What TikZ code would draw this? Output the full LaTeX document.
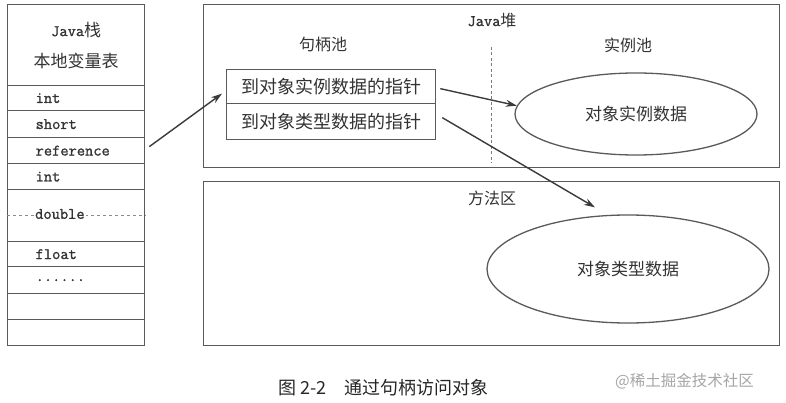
\documentclass[tikz,border=0pt]{standalone}
\usepackage{fontspec}
\setmainfont{Noto Sans CJK SC}
\newfontfamily\stackmono[FakeBold=1.2]{Latin Modern Mono}
\usetikzlibrary{shapes.geometric,arrows.meta}
\definecolor{linec}{HTML}{5A5A5A}
\definecolor{textc}{HTML}{333333}
\definecolor{arrc}{HTML}{3A3A3A}
\tikzset{
  rowbox/.style={draw=linec, line width=1.3pt, anchor=north west, minimum width=137pt,
    text width=81pt, inner xsep=28pt, inner ysep=0pt, align=left, text=textc,
    font=\stackmono\fontsize{16}{16}\selectfont},
  areabox/.style={draw=linec, line width=1.3pt, anchor=north west, inner sep=0pt, minimum width=576pt},
  handlebox/.style={draw=linec, line width=1.3pt, anchor=north west, minimum width=209pt,
    inner sep=0pt, text=textc, font=\fontsize{18}{18}\selectfont},
  pool/.style={draw=linec, line width=1.3pt, ellipse, inner sep=0pt, text=textc,
    font=\fontsize{17}{17}\selectfont},
  lbl/.style={text=textc, font=\fontsize{16}{16}\selectfont, inner sep=0pt},
  ptr/.style={draw=arrc, line width=1.4pt, -{Stealth[length=11pt,width=7pt]}},
}
\begin{document}
\begin{tikzpicture}[x=1pt,y=-1pt]
\useasboundingbox (0,0) rectangle (786,403);
\fill[white] (0,0) rectangle (786,403);
% stack
\node[rowbox, minimum height=81pt, align=center, inner xsep=0pt, text width=137pt,
  font=\fontsize{17}{31}\selectfont] (hdr) at (7,4)
  {{\stackmono\fontsize{16}{16}\selectfont Java}栈\\本地变量表};
\node[rowbox, minimum height=25pt] (r1) at (7,85) {int};
\node[rowbox, minimum height=27pt] (r2) at (7,110) {short};
\node[rowbox, minimum height=26pt] (r3) at (7,137) {reference};
\node[rowbox, minimum height=26pt] (r4) at (7,163) {int};
\node[rowbox, minimum height=52pt] (r5) at (7,189) {};
\node[rowbox, minimum height=25pt] (r6) at (7,241) {float};
\node[rowbox, minimum height=27pt] (r7) at (7,266) {......};
\node[rowbox, minimum height=26pt] (r8) at (7,293) {};
\node[rowbox, minimum height=26pt] (r9) at (7,319) {};
\draw[linec!70, line width=0.9pt, dash pattern=on 3pt off 3pt] (r5.west) -- (r5.east);
\node[fill=white, inner xsep=1pt, inner ysep=2pt, text=textc, anchor=west,
  font=\stackmono\fontsize{16}{16}\selectfont] (dbl) at (34,214) {double};
% heap
\node[areabox, minimum height=163pt] (heap) at (203,4) {};
\node[lbl] (heaplbl) at (492,20) {{\stackmono\fontsize{16}{16}\selectfont Java}堆};
\coordinate (dtop) at (491,47);
\coordinate (dbot) at (491,163);
\draw[linec!80, line width=1pt, dash pattern=on 3pt off 2.5pt] (dtop) -- (dbot);
\node[lbl] (hplbl) at (323,44) {句柄池};
\node[lbl] (iplbl) at (628,45) {实例池};
\node[handlebox, minimum height=34pt] (h1) at (226,69) {到对象实例数据的指针};
\node[handlebox, minimum height=36pt] (h2) at (226,103) {到对象类型数据的指针};
\node[pool, minimum width=242pt, minimum height=82pt] (e1) at (636,114) {对象实例数据};
% method area
\node[areabox, minimum height=164pt] (meth) at (203,181) {};
\node[lbl] (mlbl) at (492,198) {方法区};
\node[pool, minimum width=282pt, minimum height=108pt] (e2) at (628,269) {对象类型数据};
% pointers
\draw[ptr] ([xshift=4pt,yshift=4pt]r3.east) -- ([xshift=-4pt,yshift=-7pt]h1.west);
\draw[ptr] ([xshift=4pt,yshift=-2pt]h1.east) -- (e1.176);
\draw[ptr] ([xshift=6pt,yshift=4pt]h2.east) -- ([xshift=-33pt,yshift=7pt]e2.north);
% caption
\node[text=black!85, font=\fontsize{18}{18}\selectfont, anchor=west, inner sep=0pt] (cap) at (278,388)
  {图 2-2\hspace{1em}通过句柄访问对象};
\node[text=black!35, font=\fontsize{15.5}{16}\selectfont, anchor=west, inner sep=0pt] (wm) at (615,381)
  {@稀土掘金技术社区};
\end{tikzpicture}
\end{document}
